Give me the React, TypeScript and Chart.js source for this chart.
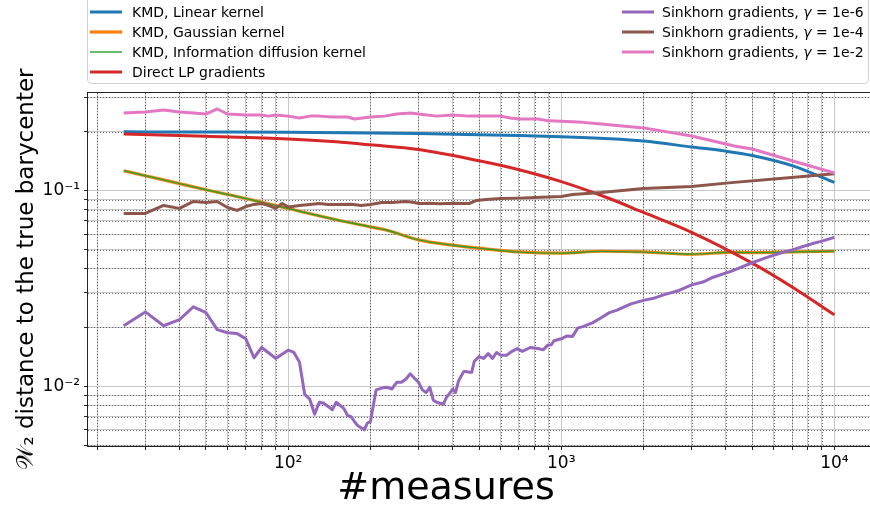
import React, { useEffect, useRef } from 'react';
import { Chart, registerables } from 'chart.js';

Chart.register(...registerables);

// ---------- tick values ----------
const xTickValues = [20, 30, 40, 50, 60, 70, 80, 90, 100, 200, 300, 400, 500, 600, 700, 800, 900, 1000, 2000, 3000, 4000, 5000, 6000, 7000, 8000, 9000, 10000];
const yTickValues = [0.005, 0.006, 0.007, 0.008, 0.009, 0.01, 0.02, 0.03, 0.04, 0.05, 0.06, 0.07, 0.08, 0.09, 0.1, 0.2, 0.3];

// ---------- series ----------
const linearX = [25, 50, 100, 200, 300, 500, 700, 1000, 1500, 2000, 3000, 4000, 5000, 7000, 10000];
const linearY = [0.1995, 0.199, 0.1985, 0.197, 0.1955, 0.193, 0.191, 0.1885, 0.184, 0.179, 0.167, 0.159, 0.151, 0.134, 0.11];

const gaussX = [25, 30, 40, 50, 70, 100, 150, 200, 230, 300, 400, 500, 700, 1000, 1400, 2000, 3000, 4200, 5000, 7000, 10000];
const gaussY = [0.1263, 0.1191, 0.1085, 0.101, 0.0911, 0.081, 0.071, 0.0653, 0.0627, 0.056, 0.0526, 0.0508, 0.0486, 0.0479, 0.049, 0.0486, 0.0473, 0.0484, 0.0482, 0.0486, 0.049];

const diffX = [25, 30, 40, 50, 70, 100, 150, 200, 230, 300, 400, 500, 700, 1000, 1400, 2000, 3000, 4200, 5000, 7000, 10000];
const diffY = [0.1263, 0.1191, 0.1085, 0.101, 0.0911, 0.081, 0.071, 0.0653, 0.0627, 0.056, 0.0526, 0.0508, 0.0485, 0.0479, 0.0489, 0.0485, 0.0474, 0.0484, 0.0482, 0.0486, 0.049];

const lpX = [25, 50, 100, 150, 200, 300, 500, 700, 1000, 1500, 2000, 3000, 5000, 7000, 10000];
const lpY = [0.1945, 0.1893, 0.1836, 0.1774, 0.1712, 0.1619, 0.1419, 0.1278, 0.1111, 0.0911, 0.0773, 0.0612, 0.0426, 0.0322, 0.0232];

const sk6X = [25, 30, 35, 40, 45, 50, 55, 60, 65, 70, 75, 80, 85, 90, 95, 100, 105, 110, 115, 120, 125, 130, 135, 140, 145, 150, 155, 160, 165, 170, 175, 180, 190, 195, 200, 210, 220, 230, 240, 250, 260, 270, 280, 290, 300, 310, 320, 330, 340, 350, 360, 370, 380, 390, 400, 410, 420, 430, 440, 450, 460, 470, 480, 500, 520, 540, 560, 580, 600, 630, 660, 690, 720, 770, 820, 860, 890, 920, 940, 1000, 1050, 1100, 1150, 1200, 1300, 1400, 1500, 1600, 1700, 1800, 2000, 2200, 2400, 2700, 3000, 3300, 3600, 4200, 5000, 5700, 6500, 7000, 8400, 9000, 10000];
const sk6Y = [0.0204, 0.024, 0.0204, 0.0219, 0.0255, 0.0238, 0.0195, 0.0188, 0.0186, 0.0175, 0.014, 0.0158, 0.0148, 0.0139, 0.0146, 0.0153, 0.0149, 0.0133, 0.0091, 0.0086, 0.0072, 0.0083, 0.0082, 0.0079, 0.0076, 0.0083, 0.008, 0.0077, 0.0071, 0.007, 0.0066, 0.0063, 0.006, 0.0065, 0.0066, 0.0096, 0.0098, 0.0099, 0.0097, 0.0105, 0.0105, 0.0109, 0.0116, 0.011, 0.0105, 0.0096, 0.0093, 0.0099, 0.0085, 0.0083, 0.0082, 0.0081, 0.0088, 0.0092, 0.0097, 0.0093, 0.0106, 0.0113, 0.0119, 0.0119, 0.0118, 0.0118, 0.0134, 0.0142, 0.0139, 0.0147, 0.0139, 0.0149, 0.0144, 0.0144, 0.0151, 0.0156, 0.0151, 0.0158, 0.0156, 0.0154, 0.0162, 0.0163, 0.0171, 0.0175, 0.0181, 0.018, 0.0199, 0.0202, 0.0211, 0.0224, 0.0238, 0.0245, 0.0255, 0.0264, 0.0275, 0.0283, 0.0295, 0.0309, 0.033, 0.0341, 0.0361, 0.0388, 0.0428, 0.0457, 0.0484, 0.0498, 0.0538, 0.0552, 0.0577];

const sk4X = [25, 30, 35, 40, 45, 50, 55, 60, 65, 70, 75, 80, 85, 90, 95, 100, 110, 120, 130, 140, 150, 170, 185, 200, 220, 240, 270, 290, 300, 330, 360, 400, 460, 490, 530, 600, 700, 800, 1000, 1100, 1400, 2000, 3000, 4200, 6800, 10000];
const sk4Y = [0.0764, 0.0764, 0.0839, 0.0811, 0.088, 0.0869, 0.088, 0.082, 0.0792, 0.0829, 0.085, 0.0859, 0.0839, 0.0811, 0.0859, 0.0825, 0.0839, 0.0849, 0.0859, 0.0849, 0.0849, 0.0852, 0.0839, 0.0849, 0.0869, 0.0869, 0.088, 0.0869, 0.0859, 0.0862, 0.0856, 0.0862, 0.0859, 0.089, 0.09, 0.0911, 0.0915, 0.0922, 0.0932, 0.0954, 0.0977, 0.1024, 0.1048, 0.1098, 0.1164, 0.122];

const sk2X = [25, 30, 35, 40, 45, 50, 55, 60, 70, 80, 85, 90, 100, 110, 120, 130, 145, 165, 175, 200, 225, 250, 280, 300, 350, 400, 460, 550, 600, 650, 700, 820, 900, 1000, 1200, 1400, 2000, 3000, 4300, 5000, 7000, 10000];
const sk2Y = [0.249, 0.252, 0.258, 0.252, 0.249, 0.246, 0.261, 0.246, 0.243, 0.243, 0.24, 0.243, 0.24, 0.235, 0.24, 0.24, 0.2375, 0.2375, 0.232, 0.2375, 0.24, 0.246, 0.249, 0.246, 0.24, 0.243, 0.24, 0.24, 0.24, 0.235, 0.232, 0.232, 0.227, 0.226, 0.223, 0.219, 0.209, 0.19, 0.169, 0.163, 0.142, 0.123];

const seriesLabels = [
  'KMD, Linear kernel',
  'KMD, Gaussian kernel',
  'KMD, Information diffusion kernel',
  'Direct LP gradients',
  'Sinkhorn gradients, |γ| = 1e-6',
  'Sinkhorn gradients, |γ| = 1e-4',
  'Sinkhorn gradients, |γ| = 1e-2',
];
const seriesColors = ['#1f77b4', '#ff7f0e', '#2ca02c', '#d62728', '#9467bd', '#8c564b', '#e377c2'];

const FONT = "'DejaVu Sans', sans-serif";
const W = 870;
const H = 508;

const SUP: Record<string, string> = { '-': '⁻', '0': '⁰', '1': '¹', '2': '²', '3': '³', '4': '⁴', '5': '⁵' };
function logLabel(v: number): string {
  const l = Math.log10(v);
  const e = Math.round(l);
  if (Math.abs(l - e) > 1e-6) return '';
  return '10' + String(e).split('').map((c) => SUP[c]).join('');
}
function isMajor(v: number): boolean {
  const l = Math.log10(v);
  return Math.abs(l - Math.round(l)) < 1e-6;
}

const gridOverlay = {
  id: 'gridOverlay',
  beforeDatasetsDraw(chart: any) {
    const { ctx, chartArea, scales } = chart;
    ctx.save();
    ctx.strokeStyle = '#555555';
    ctx.lineWidth = 0.9;
    ctx.setLineDash([1, 2]);
    for (const v of xTickValues) {
      if (isMajor(v)) continue;
      const px = Math.round(scales.x.getPixelForValue(v)) + 0.5;
      ctx.beginPath();
      ctx.moveTo(px, chartArea.top);
      ctx.lineTo(px, chartArea.bottom);
      ctx.stroke();
    }
    for (const v of yTickValues) {
      if (isMajor(v)) continue;
      const py = Math.round(scales.y.getPixelForValue(v)) + 0.5;
      ctx.beginPath();
      ctx.moveTo(chartArea.left, py);
      ctx.lineTo(chartArea.right, py);
      ctx.stroke();
    }
    ctx.restore();
  },
  afterDatasetsDraw(chart: any) {
    const { ctx, chartArea } = chart;
    ctx.save();
    ctx.strokeStyle = '#222';
    ctx.lineWidth = 1;
    ctx.strokeRect(chartArea.left - 0.5, chartArea.top - 0.5, chartArea.right - chartArea.left + 1, chartArea.bottom - chartArea.top + 1);
    ctx.restore();
  },
};

function drawLabel(ctx: CanvasRenderingContext2D, text: string, x: number, y: number) {
  // segments between | are italic (math gamma)
  const parts = text.split('|');
  let cx = x;
  parts.forEach((p, i) => {
    ctx.font = (i % 2 === 1 ? 'italic ' : '') + '14px ' + FONT;
    ctx.fillText(p, cx, y);
    cx += ctx.measureText(p).width;
  });
}

const legendAndTitles = {
  id: 'legendAndTitles',
  afterDraw(chart: any) {
    const { ctx } = chart;
    ctx.save();
    // legend box
    const bx = 87.5, by = -6, bw = 781, bh = 89.5, r = 4;
    ctx.beginPath();
    ctx.moveTo(bx + r, by);
    ctx.lineTo(bx + bw - r, by);
    ctx.quadraticCurveTo(bx + bw, by, bx + bw, by + r);
    ctx.lineTo(bx + bw, by + bh - r);
    ctx.quadraticCurveTo(bx + bw, by + bh, bx + bw - r, by + bh);
    ctx.lineTo(bx + r, by + bh);
    ctx.quadraticCurveTo(bx, by + bh, bx, by + bh - r);
    ctx.lineTo(bx, by + r);
    ctx.quadraticCurveTo(bx, by, bx + r, by);
    ctx.closePath();
    ctx.fillStyle = 'rgba(255,255,255,0.8)';
    ctx.fill();
    ctx.strokeStyle = '#d0d0d0';
    ctx.lineWidth = 1;
    ctx.stroke();

    const rows = [12, 32, 52, 72];
    const datasets = chart.data.datasets;
    datasets.forEach((d: any, i: number) => {
      const col = i < 4 ? 0 : 1;
      const row = i < 4 ? i : i - 4;
      const hx = col === 0 ? 90 : 622;
      const tx = col === 0 ? 132 : 662;
      const y = rows[row];
      ctx.beginPath();
      ctx.strokeStyle = d.borderColor;
      ctx.lineWidth = d.borderWidth;
      ctx.setLineDash([]);
      ctx.moveTo(hx, y);
      ctx.lineTo(hx + 32, y);
      ctx.stroke();
      ctx.fillStyle = '#000';
      ctx.textBaseline = 'middle';
      ctx.textAlign = 'left';
      drawLabel(ctx, d.label, tx, y + 1);
    });

    // axis titles
    ctx.fillStyle = '#000';
    ctx.textAlign = 'center';
    ctx.textBaseline = 'alphabetic';
    ctx.font = '38px ' + FONT;
    ctx.fillText('#measures', 446, 499);

    ctx.save();
    ctx.translate(33, 269);
    ctx.rotate(-Math.PI / 2);
    ctx.font = '23px ' + FONT;
    ctx.fillText('𝒲₂ distance to the true barycenter', 0, 0);
    ctx.restore();

    ctx.restore();
  },
};

export default function App() {
  const ref = useRef<HTMLCanvasElement>(null);
  useEffect(() => {
    const canvas = ref.current;
    if (!canvas) return;
    const mk = (xs: number[], ys: number[]) => xs.map((x, i) => ({ x, y: ys[i] }));
    const sets = [
      [linearX, linearY, 3, true],
      [gaussX, gaussY, 3.2, true],
      [diffX, diffY, 1.4, true],
      [lpX, lpY, 3, true],
      [sk6X, sk6Y, 3, false],
      [sk4X, sk4Y, 3, false],
      [sk2X, sk2Y, 3, false],
    ] as [number[], number[], number, boolean][];
    const datasets = sets.map(([xs, ys, w, smooth], i) => ({
      label: seriesLabels[i],
      data: mk(xs, ys),
      borderColor: seriesColors[i],
      backgroundColor: seriesColors[i],
      borderWidth: w,
      pointRadius: 0,
      pointHoverRadius: 0,
      fill: false,
      tension: 0,
      cubicInterpolationMode: smooth ? 'monotone' : 'default',
      borderJoinStyle: 'round',
      order: 10 - i,
    }));

    const chart = new Chart(canvas, {
      type: 'line',
      data: { datasets } as any,
      options: {
        responsive: false,
        animation: false,
        devicePixelRatio: 1,
        layout: { padding: { top: 93, left: 0, right: 0, bottom: 0 } },
        plugins: { legend: { display: false }, tooltip: { enabled: false }, title: { display: false } },
        scales: {
          x: {
            type: 'logarithmic',
            min: 18.5,
            max: 13500,
            afterBuildTicks: (s: any) => {
              s.ticks = xTickValues.map((v) => ({ value: v, major: isMajor(v) }));
            },
            afterFit: (s: any) => {
              s.height = 62;
            },
            ticks: {
              autoSkip: false,
              maxRotation: 0,
              minRotation: 0,
              padding: 3,
              color: '#000',
              font: { family: FONT, size: 17 },
              callback: (v: any) => logLabel(Number(v)),
            },
            grid: { color: '#c8c8c8', lineWidth: 1, tickColor: '#222', tickLength: 4, drawTicks: true },
            border: { display: false },
          },
          y: {
            type: 'logarithmic',
            min: 0.00496,
            max: 0.315,
            afterBuildTicks: (s: any) => {
              s.ticks = yTickValues.map((v) => ({ value: v, major: isMajor(v) }));
            },
            afterFit: (s: any) => {
              s.width = 88;
            },
            ticks: {
              autoSkip: false,
              padding: 4,
              color: '#000',
              font: { family: FONT, size: 17 },
              callback: (v: any) => logLabel(Number(v)),
            },
            grid: { color: '#c8c8c8', lineWidth: 1, tickColor: '#222', tickLength: 4, drawTicks: true },
            border: { display: false },
          },
        },
      } as any,
      plugins: [gridOverlay, legendAndTitles],
    });
    return () => chart.destroy();
  }, []);

  return (
    <div style={{ position: 'fixed', left: 0, top: 0, width: W, height: H, background: '#fff' }}>
      <canvas ref={ref} width={W} height={H} style={{ display: 'block', width: W, height: H }} />
    </div>
  );
}
